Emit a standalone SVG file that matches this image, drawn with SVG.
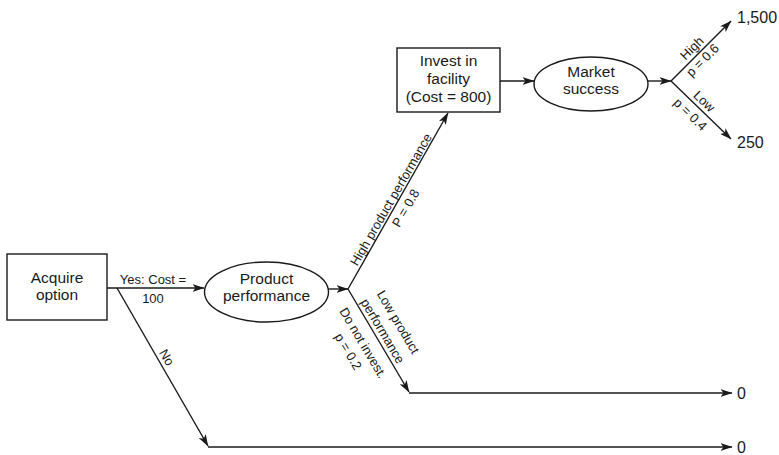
<svg xmlns="http://www.w3.org/2000/svg" width="779" height="455" viewBox="0 0 779 455">
  <style>
    .shape { fill: #ffffff; stroke: #1a1a1a; stroke-width: 1.4; }
    .edge { fill: none; stroke: #1a1a1a; stroke-width: 1.4; }
    .node-text { font-family: "Liberation Sans", Arial, sans-serif; font-size: 15.5px; fill: #1a1a1a; text-anchor: middle; }
    .label { font-family: "Liberation Sans", Arial, sans-serif; font-size: 13px; fill: #1a1a1a; text-anchor: middle; }
    .payoff { font-family: "Liberation Sans", Arial, sans-serif; font-size: 16px; fill: #1a1a1a; }
  </style>
  <defs>
    <marker id="arrow" viewBox="0 0 12 8" refX="11.5" refY="4" markerWidth="12" markerHeight="8" markerUnits="userSpaceOnUse" orient="auto">
      <path d="M0,0 L12,4 L0,8 L3,4 z" fill="#1a1a1a"/>
    </marker>
  </defs>

  <!-- connectors -->
  <g id="connectors">
    <line class="edge" x1="107" y1="288" x2="204" y2="288" marker-end="url(#arrow)"/>
    <line class="edge" x1="117" y1="288" x2="208" y2="446" marker-end="url(#arrow)"/>
    <line class="edge" x1="208" y1="447" x2="732" y2="447" marker-end="url(#arrow)"/>
    <line class="edge" x1="328" y1="289" x2="348" y2="289" marker-end="url(#arrow)"/>
    <line class="edge" x1="348" y1="289" x2="448" y2="113" marker-end="url(#arrow)"/>
    <line class="edge" x1="348" y1="289" x2="409" y2="392" marker-end="url(#arrow)"/>
    <line class="edge" x1="409" y1="393" x2="732" y2="393" marker-end="url(#arrow)"/>
    <line class="edge" x1="500" y1="81" x2="534" y2="81" marker-end="url(#arrow)"/>
    <line class="edge" x1="648" y1="81" x2="671" y2="81" marker-end="url(#arrow)"/>
    <line class="edge" x1="671" y1="81" x2="731" y2="21" marker-end="url(#arrow)"/>
    <line class="edge" x1="671" y1="81" x2="731" y2="139" marker-end="url(#arrow)"/>

    <!-- connector labels -->
    <text class="label" x="153" y="284">Yes: Cost =</text>
    <text class="label" x="153" y="303">100</text>
    <text class="label" transform="translate(117,288) rotate(60.1)" x="85" y="-4">No</text>
    <g transform="translate(348,289) rotate(-60)">
      <text class="label" x="99" y="-3">High product performance</text>
      <text class="label" x="99" y="14">P = 0.8</text>
    </g>
    <g transform="translate(348,289) rotate(59.4)">
      <text class="label" x="54" y="-22">Low product</text>
      <text class="label" x="54" y="-4">performance</text>
      <text class="label" x="54" y="19">Do not invest.</text>
      <text class="label" x="54" y="36">p = 0.2</text>
    </g>
    <g transform="translate(671,81) rotate(-45)">
      <text class="label" x="38" y="-4">High</text>
      <text class="label" x="37" y="12">p = 0.6</text>
    </g>
    <g transform="translate(671,81) rotate(44)">
      <text class="label" x="38" y="-4">Low</text>
      <text class="label" x="37" y="15">p = 0.4</text>
    </g>

    <!-- payoffs -->
    <text class="payoff" x="737" y="23">1,500</text>
    <text class="payoff" x="737" y="148">250</text>
    <text class="payoff" x="737" y="399">0</text>
    <text class="payoff" x="737" y="453">0</text>
  </g>

  <!-- decision: acquire option -->
  <g id="acquire-option">
    <rect class="shape" x="7" y="254" width="100" height="66"/>
    <text class="node-text" x="57" y="283">Acquire</text>
    <text class="node-text" x="57" y="300">option</text>
  </g>

  <!-- chance: product performance -->
  <g id="product-performance">
    <ellipse class="shape" cx="266.5" cy="292" rx="62" ry="30"/>
    <text class="node-text" x="266.5" y="284">Product</text>
    <text class="node-text" x="266.5" y="301">performance</text>
  </g>

  <!-- decision: invest in facility -->
  <g id="invest-facility">
    <rect class="shape" x="397" y="48" width="103" height="64"/>
    <text class="node-text" x="448.5" y="66">Invest in</text>
    <text class="node-text" x="448.5" y="84">facility</text>
    <text class="node-text" x="448.5" y="102">(Cost = 800)</text>
  </g>

  <!-- chance: market success -->
  <g id="market-success">
    <ellipse class="shape" cx="591" cy="84" rx="57" ry="27"/>
    <text class="node-text" x="591" y="77">Market</text>
    <text class="node-text" x="591" y="94">success</text>
  </g>
</svg>
